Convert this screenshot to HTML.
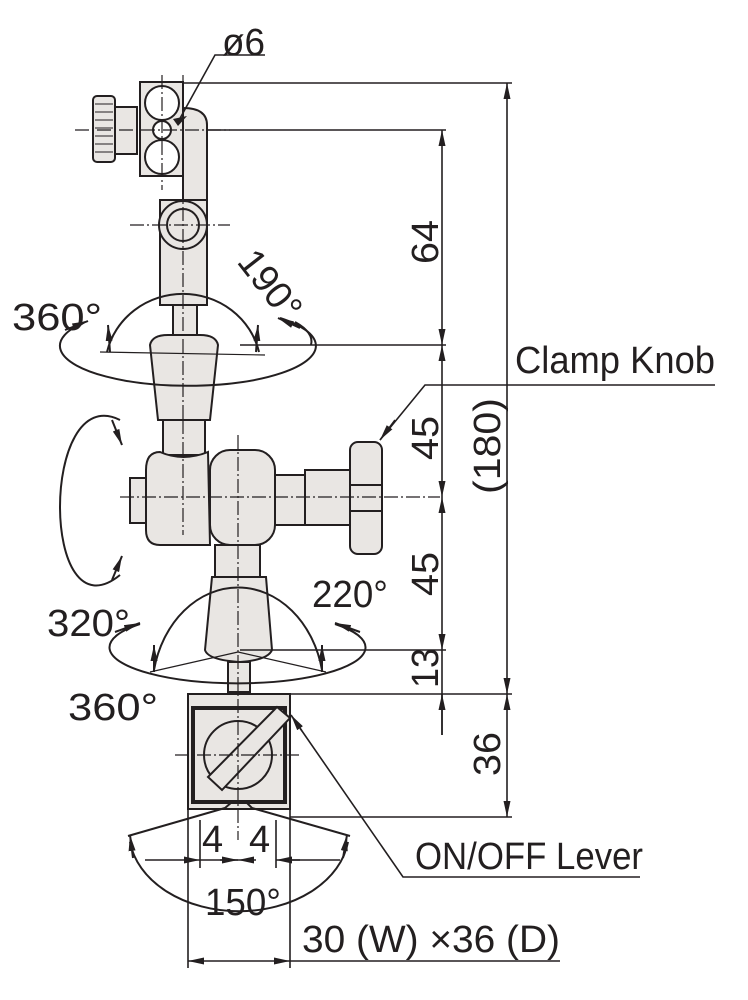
<!DOCTYPE html>
<html><head><meta charset="utf-8"><style>
html,body{margin:0;padding:0;background:#fff}
svg{display:block}
text{font-family:"Liberation Sans Narrow","Liberation Sans",sans-serif;fill:#231f20}
</style></head><body>
<svg width="748" height="1000" viewBox="0 0 748 1000" xmlns="http://www.w3.org/2000/svg">
<defs>
<marker id="a" viewBox="0 0 10 10" refX="10" refY="5" markerWidth="16" markerHeight="7" preserveAspectRatio="none" orient="auto-start-reverse" markerUnits="userSpaceOnUse"><path d="M0,0L10,5L0,10z" fill="#231f20"/></marker>
</defs>
<g stroke="#231f20" stroke-width="2" fill="#e9e6e3">
<rect x="93" y="96" width="22" height="66" rx="4"/>
<g stroke-width="1"><line x1="95" y1="104" x2="113" y2="104"/><line x1="95" y1="112" x2="113" y2="112"/><line x1="95" y1="120" x2="113" y2="120"/><line x1="95" y1="128" x2="113" y2="128"/><line x1="95" y1="136" x2="113" y2="136"/><line x1="95" y1="144" x2="113" y2="144"/><line x1="95" y1="152" x2="113" y2="152"/></g>
<rect x="115" y="107" width="22" height="47"/>
<rect x="140" y="82" width="43" height="94"/>
<circle cx="162" cy="103" r="17" fill="#fff"/>
<circle cx="162" cy="157" r="17" fill="#fff"/>
<circle cx="162" cy="130" r="9" fill="#fff"/>
<path d="M183,108 Q207,108 207,125 L207,200 L183,200 Z"/>
<rect x="160" y="200" width="47" height="105"/>
<circle cx="183" cy="225" r="24"/>
<circle cx="183" cy="225" r="16"/>
<rect x="173" y="305" width="24" height="30"/>
<path d="M150,345 Q152,335 168,335 L200,335 Q216,335 218,345 L210,420 L158,420 Z"/>
<rect x="163" y="420" width="42" height="35"/>
<rect x="130" y="478" width="18" height="45"/>
<path d="M160,452 Q183,462 208,452 L210,545 L160,545 Q146,545 146,530 L146,470 Q146,452 160,452Z"/>
<rect x="210" y="450" width="65" height="95" rx="20"/>
<rect x="275" y="475" width="30" height="50"/>
<rect x="305" y="470" width="45" height="55"/>
<rect x="350" y="442" width="32" height="112" rx="8"/>
<line x1="350" y1="485" x2="382" y2="485"/><line x1="350" y1="511" x2="382" y2="511"/>
<rect x="215" y="545" width="45" height="32"/>
<path d="M212,577 L266,577 L272,650 Q268,660 240,662 Q208,660 205,650 Z"/>
<rect x="228" y="662" width="22" height="30"/>
<rect x="188" y="694" width="102" height="115"/>
<rect x="193" y="708" width="92" height="94" stroke-width="4"/>
<circle cx="238" cy="755" r="34"/>
<path d="M208,777 L277,707 L290,718 L222,790 Z"/>
<path d="M225,808 L232,802 L246,802 L252,808" fill="none"/>
</g>
<g stroke="#231f20" stroke-width="1.2" fill="none" stroke-dasharray="14 3 2 3">
<line x1="183" y1="75" x2="183" y2="420"/>
<line x1="162" y1="75" x2="162" y2="190"/>
<line x1="75" y1="130" x2="230" y2="130"/>
<line x1="130" y1="225" x2="230" y2="225"/>
<line x1="183" y1="420" x2="183" y2="535"/>
<line x1="238" y1="435" x2="238" y2="840"/>
<line x1="120" y1="497" x2="440" y2="497"/>
<line x1="175" y1="755" x2="300" y2="755"/>
</g>
<g stroke="#231f20" stroke-width="2" fill="none">
<path d="M85,322 A128,40 0 1 0 280,318"/>
<path d="M295,322 A128,40 0 0 1 311,345"/>
<line x1="65" y1="330" x2="88" y2="321" marker-end="url(#a)"/>
<line x1="300" y1="328" x2="278" y2="318" marker-end="url(#a)"/>
<path d="M107,352 A78,75 0 0 1 259,352"/>
<line x1="108" y1="325" x2="110" y2="352" marker-start="url(#a)"/>
<line x1="258" y1="325" x2="256" y2="352" marker-start="url(#a)"/>
<line x1="100" y1="352" x2="265" y2="355" stroke-width="1.2"/>
<path d="M120,420 C 40,380 40,640 120,575"/>
<line x1="112" y1="420" x2="122" y2="445" marker-end="url(#a)"/>
<line x1="112" y1="580" x2="122" y2="556" marker-end="url(#a)"/>
<path d="M140,624 A128,36 0 1 0 335,624"/>
<line x1="115" y1="632" x2="140" y2="623" marker-end="url(#a)"/>
<line x1="360" y1="632" x2="335" y2="623" marker-end="url(#a)"/>
<path d="M154,670 A86,105 0 0 1 322,670"/>
<line x1="154" y1="645" x2="154" y2="672" marker-start="url(#a)"/>
<line x1="322" y1="645" x2="322" y2="672" marker-start="url(#a)"/>
<line x1="150" y1="672" x2="238" y2="652" stroke-width="1.2"/>
<line x1="238" y1="652" x2="326" y2="672" stroke-width="1.2"/>
<path d="M130,842 A110,80 0 0 0 348,842"/>
<line x1="128" y1="836" x2="225" y2="808"/>
<line x1="350" y1="836" x2="252" y2="808"/>
<line x1="133" y1="858" x2="130" y2="835" marker-end="url(#a)"/>
<line x1="343" y1="858" x2="347" y2="835" marker-end="url(#a)"/>
</g>
<g stroke="#231f20" stroke-width="1.6" fill="none">
<line x1="183" y1="83" x2="512" y2="83"/>
<line x1="207" y1="130" x2="446" y2="130"/>
<line x1="240" y1="345" x2="446" y2="345"/>
<line x1="240" y1="650" x2="446" y2="650"/>
<line x1="290" y1="694" x2="512" y2="694"/>
<line x1="290" y1="817" x2="512" y2="817"/>
<line x1="442" y1="130" x2="442" y2="345" marker-start="url(#a)" marker-end="url(#a)"/>
<line x1="442" y1="345" x2="442" y2="497" marker-start="url(#a)" marker-end="url(#a)"/>
<line x1="442" y1="497" x2="442" y2="650" marker-start="url(#a)" marker-end="url(#a)"/>
<line x1="442" y1="650" x2="442" y2="735"/>
<line x1="442" y1="735" x2="442" y2="694" marker-end="url(#a)"/>
<line x1="507" y1="83" x2="507" y2="694" marker-start="url(#a)" marker-end="url(#a)"/>
<line x1="507" y1="694" x2="507" y2="817" marker-start="url(#a)" marker-end="url(#a)"/>
<polyline points="265,55 215,55 178,122"/>
<polyline points="715,385 425,385 380,440"/>
<line x1="395" y1="420" x2="380" y2="440" marker-end="url(#a)"/>
<polyline points="640,877 403,877 293,718"/>
<line x1="302" y1="731" x2="291" y2="715" marker-end="url(#a)"/>
<line x1="188" y1="809" x2="188" y2="968"/>
<line x1="290" y1="809" x2="290" y2="968"/>
<line x1="200" y1="820" x2="200" y2="868"/>
<line x1="276" y1="820" x2="276" y2="868"/>
<line x1="145" y1="860" x2="200" y2="860" marker-end="url(#a)"/>
<line x1="238" y1="860" x2="200" y2="860"/>
<line x1="220" y1="860" x2="238" y2="860" marker-end="url(#a)"/>
<line x1="290" y1="860" x2="340" y2="860"/>
<line x1="300" y1="860" x2="276" y2="860" marker-end="url(#a)"/>
<line x1="256" y1="860" x2="238" y2="860" marker-end="url(#a)"/>
<line x1="188" y1="961" x2="290" y2="961" marker-start="url(#a)" marker-end="url(#a)"/>
<line x1="290" y1="961" x2="560" y2="961"/>
</g>
<path d="M187,116 L178,126 L173,119 Z" fill="#231f20"/>
<g font-size="38">
<text x="222" y="55" textLength="43" lengthAdjust="spacingAndGlyphs">ø6</text>
<text x="12" y="330" textLength="90" lengthAdjust="spacingAndGlyphs">360°</text>
<text transform="translate(236,262) rotate(52)" textLength="78" lengthAdjust="spacingAndGlyphs">190°</text>
<text x="47" y="636" textLength="83" lengthAdjust="spacingAndGlyphs">320°</text>
<text x="312" y="607" textLength="76" lengthAdjust="spacingAndGlyphs">220°</text>
<text x="68" y="720" textLength="90" lengthAdjust="spacingAndGlyphs">360°</text>
<text x="202" y="852">4</text>
<text x="249" y="852">4</text>
<text x="205" y="915" textLength="76" lengthAdjust="spacingAndGlyphs">150°</text>
<text x="302" y="952" textLength="258" lengthAdjust="spacingAndGlyphs">30 (W) ×36 (D)</text>
<text x="515" y="373" textLength="200" lengthAdjust="spacingAndGlyphs">Clamp Knob</text>
<text x="415" y="869" textLength="228" lengthAdjust="spacingAndGlyphs">ON/OFF Lever</text>
<text transform="translate(438,264) rotate(-90)" textLength="44" lengthAdjust="spacingAndGlyphs">64</text>
<text transform="translate(438,460) rotate(-90)" textLength="44" lengthAdjust="spacingAndGlyphs">45</text>
<text transform="translate(438,596) rotate(-90)" textLength="44" lengthAdjust="spacingAndGlyphs">45</text>
<text transform="translate(438,688) rotate(-90)" textLength="40" lengthAdjust="spacingAndGlyphs">13</text>
<text transform="translate(500,776) rotate(-90)" textLength="44" lengthAdjust="spacingAndGlyphs">36</text>
<text transform="translate(500,494) rotate(-90)" textLength="96" lengthAdjust="spacingAndGlyphs">(180)</text>
</g>
</svg>
</body></html>
